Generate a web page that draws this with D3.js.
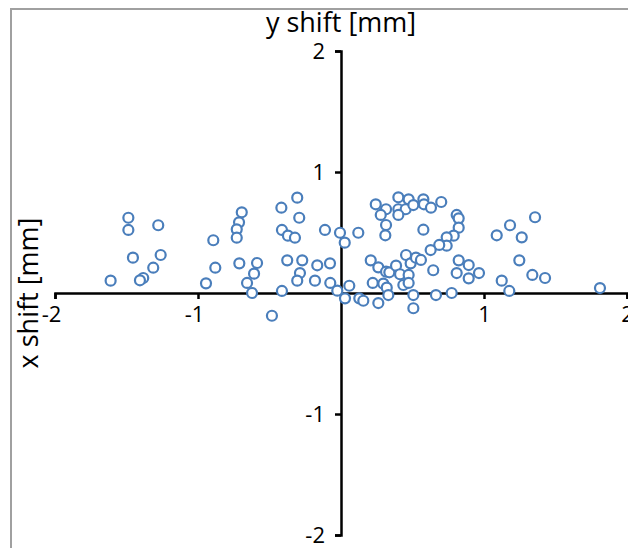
<!DOCTYPE html>
<html>
<head>
<meta charset="utf-8">
<script src="https://cdn.jsdelivr.net/npm/d3@7"></script>
<style>
  body { margin: 0; background: #fff; }
  svg { display: block; font-family: "Open Sans", sans-serif; }
  .axis path, .axis line { stroke: #000; stroke-width: 2.5px; }
  .axis text { font-size: 22px; fill: #000; font-family: "Open Sans", sans-serif; }
  .title { font-size: 27px; fill: #000; }
  .pt { fill: #fff; stroke: #4a7ebb; stroke-width: 2.2px; }
</style>
</head>
<body>
<div id="chart"></div>
<script>
var svgWidth = 628;
var svgHeight = 548;

// tick values
var xTicks = [-2, -1, 1, 2];
var yTicks = [-2, -1, 1, 2];

// points (horizontal value, vertical value) in mm
var ptX = [-1.611, -1.487, -1.487, -1.278, -1.455, -1.261, -1.313, -1.383, -1.406, -0.893,
  -0.879, -0.944, -0.694, -0.713, -0.729, -0.729, -0.711, -0.587, -0.608, -0.657,
  -0.622, -0.417, -0.306, -0.292, -0.413, -0.371, -0.322, -0.112, -0.007, 0.026,
  -0.376, -0.271, -0.166, -0.077, -0.287, -0.306, -0.182, -0.075, -0.413, -0.026,
  0.028, 0.058, -0.483, 0.121, 0.243, 0.315, 0.278, 0.401, 0.473, 0.401,
  0.452, 0.401, 0.506, 0.576, 0.580, 0.629, 0.701, 0.315, 0.310, 0.576,
  0.809, 0.823, 0.823, 0.788, 0.739, 0.739, 0.687, 0.627, 0.208, 0.261,
  0.315, 0.338, 0.385, 0.455, 0.487, 0.524, 0.559, 0.413, 0.473, 0.436,
  0.473, 0.222, 0.296, 0.320, 0.331, 0.128, 0.156, 0.261, 0.506, 0.506,
  0.664, 0.774, 0.645, 0.823, 0.893, 0.809, 0.893, 0.965, 1.357, 1.182,
  1.089, 1.264, 1.247, 1.338, 1.427, 1.124, 1.177, 1.811];
var ptY = [0.102, 0.622, 0.521, 0.560, 0.292, 0.314, 0.209, 0.124, 0.105, 0.436,
  0.209, 0.080, 0.667, 0.584, 0.526, 0.457, 0.245, 0.248, 0.160, 0.083,
  0.000, 0.705, 0.788, 0.622, 0.521, 0.474, 0.457, 0.521, 0.498, 0.416,
  0.270, 0.270, 0.229, 0.245, 0.165, 0.102, 0.102, 0.083, 0.017, 0.019,
  -0.044, 0.060, -0.188, 0.498, 0.733, 0.692, 0.645, 0.791, 0.774, 0.692,
  0.692, 0.645, 0.727, 0.774, 0.733, 0.705, 0.752, 0.562, 0.477, 0.523,
  0.645, 0.617, 0.540, 0.474, 0.460, 0.391, 0.397, 0.355, 0.270, 0.212,
  0.176, 0.171, 0.226, 0.314, 0.245, 0.292, 0.273, 0.155, 0.149, 0.066,
  0.083, 0.083, 0.077, 0.044, -0.017, -0.044, -0.064, -0.083, -0.017, -0.126,
  -0.017, 0.000, 0.188, 0.270, 0.231, 0.165, 0.121, 0.165, 0.626, 0.560,
  0.477, 0.460, 0.270, 0.149, 0.124, 0.102, 0.017, 0.041];

var points = ptX.map((x, i) => ({ x: x, y: ptY[i] }));

const svg = d3.select("#chart")
  .append("svg")
  .attr("width", svgWidth)
  .attr("height", svgHeight);

// grey frame, runs off the right and bottom edge
svg.append("rect")
  .attr("x", 11)
  .attr("y", 9)
  .attr("width", 700)
  .attr("height", 700)
  .attr("fill", "none")
  .attr("stroke", "#a0a0a0")
  .attr("stroke-width", 2);

var xScale = d3.scaleLinear().domain([-2, 2]).range([55, 627]);
var yScale = d3.scaleLinear().domain([-2, 2]).range([535, 51]);

var bottomAxis = d3.axisBottom(xScale)
  .tickValues(xTicks)
  .tickSize(6)
  .tickPadding(7)
  .tickFormat(d => String(d));

var leftAxis = d3.axisLeft(yScale)
  .tickValues(yTicks)
  .tickSize(6)
  .tickPadding(10)
  .tickFormat(d => String(d));

var xAxis = svg.append("g")
  .attr("class", "axis")
  .attr("transform", `translate(0, ${yScale(0)})`)
  .call(bottomAxis);
xAxis.selectAll("text")
  .attr("dx", d => d < 0 ? "-0.18em" : 0);

svg.append("g")
  .attr("class", "axis")
  .attr("transform", `translate(${xScale(0)}, 0)`)
  .call(leftAxis);

svg.selectAll(".axis").attr("font-family", null).attr("font-size", null);

// markers
svg.append("g")
  .selectAll("circle")
  .data(points)
  .enter()
  .append("circle")
  .attr("class", "pt")
  .attr("cx", d => xScale(d.x))
  .attr("cy", d => yScale(d.y))
  .attr("r", 5);

// axis titles
svg.append("text")
  .attr("class", "title")
  .attr("x", xScale(0))
  .attr("y", 32)
  .attr("text-anchor", "middle")
  .text("y shift [mm]");

svg.append("text")
  .attr("class", "title")
  .attr("transform", `translate(38, ${yScale(0)}) rotate(-90)`)
  .attr("text-anchor", "middle")
  .text("x shift [mm]");
</script>
</body>
</html>
